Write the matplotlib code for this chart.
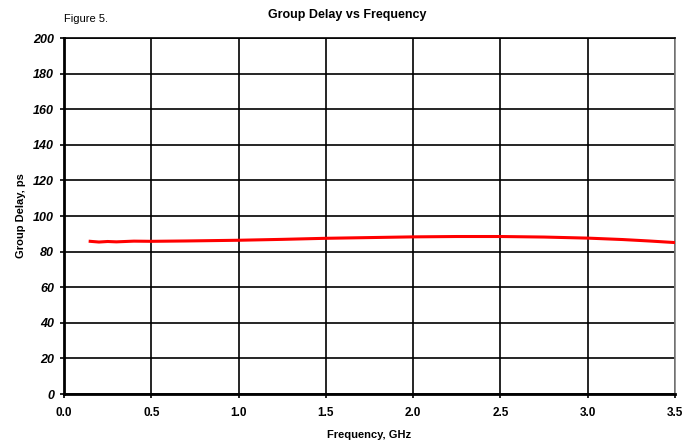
import matplotlib
matplotlib.use('Agg')
import matplotlib.pyplot as plt

# data
freq_ghz = [0.15, 0.2, 0.25, 0.3, 0.4, 0.5, 0.7, 1.0, 1.25, 1.5, 1.75, 2.0, 2.25, 2.5, 2.75, 3.0, 3.2, 3.35, 3.5]
delay_ps = [85.8, 85.4, 85.7, 85.5, 85.9, 85.8, 86.0, 86.4, 86.9, 87.5, 87.9, 88.3, 88.5, 88.5, 88.2, 87.6, 86.8, 86.0, 85.1]
x_ticks = [0.0, 0.5, 1.0, 1.5, 2.0, 2.5, 3.0, 3.5]
y_ticks = list(range(0, 201, 20))

plt.rcParams['font.family'] = ['Liberation Sans', 'DejaVu Sans']

fig = plt.figure(figsize=(6.98, 4.43), dpi=100)
ax = fig.add_axes([0.0917, 0.1106, 0.8753, 0.8034])

ax.plot(freq_ghz, delay_ps, color='#ff0000', linewidth=2.2, zorder=3)

ax.set_xlim(0, 3.5)
ax.set_ylim(0, 200)
ax.set_xticks(x_ticks)
ax.set_yticks(y_ticks)
ax.set_xticklabels([f'{v:.1f}' for v in x_ticks], fontsize=8.5, fontweight='bold')
ax.set_yticklabels([str(v) for v in y_ticks], fontsize=9, fontweight='bold', style='italic')
ax.grid(True, color='black', linewidth=1.2)
ax.tick_params(axis='both', direction='out', length=3, width=1.2, pad=4)
ax.tick_params(axis='x', pad=6)

for side in ['left', 'bottom']:
    ax.spines[side].set_linewidth(2)
    ax.spines[side].set_color('black')
ax.spines['top'].set_linewidth(1.2)
ax.spines['right'].set_color('#808080')
ax.spines['right'].set_linewidth(1.2)

ax.set_xlabel('Frequency, GHz', fontsize=8, fontweight='bold', labelpad=8)
ax.set_ylabel('Group Delay, ps', fontsize=8, fontweight='bold', labelpad=5)
fig.text(0.497, 0.966, 'Group Delay vs Frequency', fontsize=9, fontweight='bold', ha='center', va='center')
fig.text(0.091, 0.958, 'Figure 5.', fontsize=8, ha='left', va='center')

fig.savefig('out.png', dpi=100, facecolor='white')
